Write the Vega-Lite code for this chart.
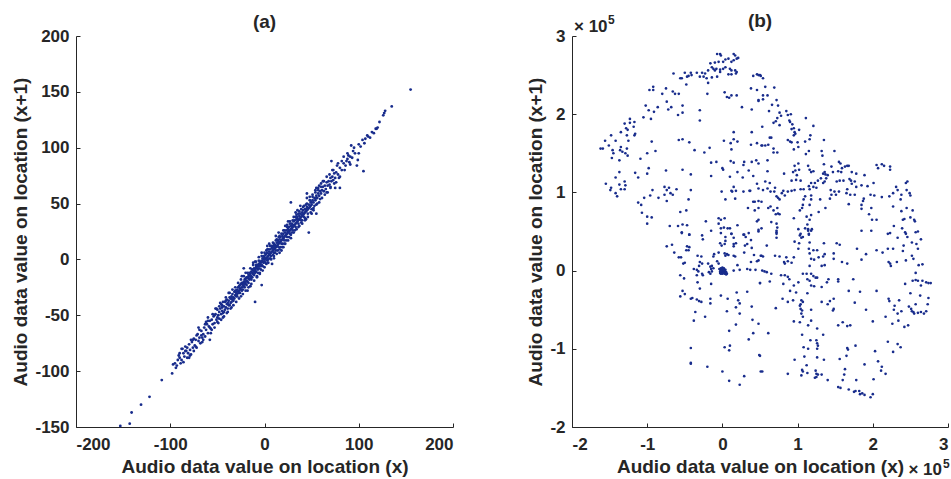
{
 "$schema": "https://vega.github.io/schema/vega-lite/v6.json",
 "padding": {"left": 11, "top": 12, "right": 0, "bottom": 0},
 "background": "white",
 "config": {
  "font": "Liberation Sans",
  "view": {"stroke": null},
  "axis": {"grid": false, "domainColor": "#262626", "domainWidth": 1, "tickColor": "#262626", "tickSize": -4, "labelPadding": 11, "labelFont": "Liberation Sans", "labelFontSize": 17, "labelFontWeight": "bold", "labelColor": "#262626", "titleFont": "Liberation Sans", "titleFontSize": 19, "titleFontWeight": "bold", "titleColor": "#262626", "format": "d", "labelExpr": "replace(datum.label, '−', '-')"},
  "axisX": {"titlePadding": 5, "labelPadding": 13},
  "axisY": {"titlePadding": 4},
  "title": {"fontSize": 19, "fontWeight": "bold", "color": "#262626", "font": "Liberation Sans", "offset": -5, "anchor": "middle"}
 },
 "datasets": {
  "a": [
   {"x":-153,"y":-149},{"x":-143,"y":-147},{"x":-141,"y":-137},{"x":-131,"y":-130},{"x":-122,"y":-123},{"x":-109,"y":-108},{"x":-98,"y":-102},
   {"x":-97,"y":-94},{"x":-95,"y":-93},{"x":-93,"y":-95},{"x":-91,"y":-86},{"x":-90,"y":-88},{"x":-88,"y":-90},{"x":-87,"y":-80},{"x":-86,"y":-84},{"x":-85,"y":-87},{"x":-84,"y":-78},{"x":-83,"y":-82},{"x":-82,"y":-88},{"x":-81,"y":-84},{"x":-80,"y":-76},{"x":-79,"y":-81},{"x":-78,"y":-85},{"x":-77,"y":-74},{"x":-76,"y":-79},{"x":-75,"y":-71},{"x":-74,"y":-77},{"x":-73,"y":-72},{"x":-72,"y":-79},{"x":-71,"y":-67},{"x":-70,"y":-73},{"x":-69,"y":-70},{"x":-68,"y":-75},{"x":-67,"y":-64},{"x":-66,"y":-70},{"x":-65,"y":-67},{"x":-64,"y":-61},{"x":-63,"y":-69},{"x":-62,"y":-63},{"x":-61,"y":-58},{"x":-60,"y":-66},{"x":-88,"y":-80},{"x":-80,"y":-88},{"x":-70,"y":-61},{"x":-58,"y":-72},{"x":-62,"y":-56},
   {"x":-59,"y":-60},{"x":-58,"y":-55},{"x":-57,"y":-62},{"x":-56,"y":-54},{"x":-55,"y":-58},{"x":-54,"y":-51},{"x":-53,"y":-57},{"x":-52,"y":-49},{"x":-51,"y":-54},{"x":-50,"y":-52},{"x":-50,"y":-45},{"x":-49,"y":-50},{"x":-48,"y":-47},{"x":-48,"y":-53},{"x":-47,"y":-44},{"x":-46,"y":-49},{"x":-45,"y":-46},{"x":-45,"y":-41},{"x":-44,"y":-48},{"x":-43,"y":-42},{"x":-42,"y":-45},{"x":-42,"y":-38},{"x":-41,"y":-43},{"x":-40,"y":-40},{"x":-40,"y":-36},{"x":-39,"y":-44},{"x":-38,"y":-37},{"x":-38,"y":-41},{"x":-37,"y":-34},{"x":-36,"y":-39},{"x":-36,"y":-35},{"x":-35,"y":-38},{"x":-34,"y":-31},{"x":-34,"y":-36},{"x":-33,"y":-34},{"x":-32,"y":-29},{"x":-32,"y":-35},{"x":-31,"y":-32},{"x":-30,"y":-33},{"x":-30,"y":-28},{"x":-56,"y":-63},{"x":-52,"y":-44},{"x":-46,"y":-40},{"x":-44,"y":-52},{"x":-38,"y":-30},{"x":-35,"y":-43},{"x":-40,"y":-48},
   {"x":-29,"y":-27},{"x":-29,"y":-31},{"x":-28,"y":-25},{"x":-28,"y":-29},{"x":-27,"y":-28},{"x":-27,"y":-24},{"x":-26,"y":-26},{"x":-26,"y":-30},{"x":-25,"y":-22},{"x":-25,"y":-27},{"x":-24,"y":-25},{"x":-24,"y":-21},{"x":-23,"y":-23},{"x":-23,"y":-27},{"x":-22,"y":-20},{"x":-22,"y":-24},{"x":-21,"y":-21},{"x":-21,"y":-18},{"x":-20,"y":-22},{"x":-20,"y":-17},{"x":-19,"y":-19},{"x":-19,"y":-23},{"x":-18,"y":-16},{"x":-18,"y":-20},{"x":-17,"y":-17},{"x":-17,"y":-14},{"x":-16,"y":-18},{"x":-16,"y":-15},{"x":-15,"y":-13},{"x":-15,"y":-17},{"x":-14,"y":-15},{"x":-14,"y":-11},{"x":-13,"y":-12},{"x":-13,"y":-16},{"x":-12,"y":-10},{"x":-12,"y":-13},{"x":-11,"y":-11},{"x":-11,"y":-8},{"x":-10,"y":-12},{"x":-10,"y":-9},{"x":-9,"y":-7},{"x":-9,"y":-11},{"x":-8,"y":-8},{"x":-8,"y":-5},{"x":-7,"y":-9},{"x":-7,"y":-6},{"x":-6,"y":-4},{"x":-6,"y":-8},{"x":-5,"y":-5},{"x":-5,"y":-2},{"x":-4,"y":-6},{"x":-4,"y":-3},{"x":-3,"y":-1},{"x":-3,"y":-5},{"x":-2,"y":-2},{"x":-2,"y":1},{"x":-1,"y":-3},{"x":-1,"y":0},{"x":0,"y":2},{"x":0,"y":-2},{"x":-25,"y":-33},{"x":-20,"y":-12},{"x":-15,"y":-24},{"x":-10,"y":-2},{"x":-5,"y":-13},{"x":-18,"y":-28},{"x":-12,"y":-3},{"x":-3,"y":6},{"x":-24,"y":-15},{"x":-8,"y":-16},{"x":-10,"y":-38},{"x":-3,"y":-23},{"x":-22,"y":-8},
   {"x":1,"y":0},{"x":1,"y":4},{"x":2,"y":1},{"x":2,"y":5},{"x":3,"y":2},{"x":3,"y":6},{"x":4,"y":3},{"x":4,"y":0},{"x":5,"y":7},{"x":5,"y":4},{"x":6,"y":5},{"x":6,"y":9},{"x":7,"y":6},{"x":7,"y":3},{"x":8,"y":10},{"x":8,"y":7},{"x":9,"y":8},{"x":9,"y":12},{"x":10,"y":9},{"x":10,"y":6},{"x":11,"y":13},{"x":11,"y":10},{"x":12,"y":11},{"x":12,"y":8},{"x":13,"y":15},{"x":13,"y":12},{"x":14,"y":13},{"x":14,"y":17},{"x":15,"y":14},{"x":15,"y":11},{"x":16,"y":18},{"x":16,"y":15},{"x":17,"y":16},{"x":17,"y":20},{"x":18,"y":17},{"x":18,"y":14},{"x":19,"y":21},{"x":19,"y":18},{"x":20,"y":19},{"x":20,"y":23},{"x":21,"y":20},{"x":21,"y":17},{"x":22,"y":24},{"x":22,"y":21},{"x":23,"y":22},{"x":23,"y":26},{"x":24,"y":23},{"x":24,"y":20},{"x":25,"y":27},{"x":25,"y":24},{"x":26,"y":25},{"x":26,"y":29},{"x":27,"y":26},{"x":27,"y":23},{"x":28,"y":30},{"x":28,"y":27},{"x":29,"y":28},{"x":29,"y":32},{"x":30,"y":29},{"x":30,"y":26},{"x":5,"y":14},{"x":10,"y":1},{"x":15,"y":24},{"x":20,"y":11},{"x":25,"y":34},{"x":12,"y":21},{"x":18,"y":8},{"x":28,"y":19},{"x":3,"y":12},{"x":22,"y":30},{"x":8,"y":-4},{"x":16,"y":6},{"x":28,"y":51},{"x":47,"y":24},
   {"x":31,"y":30},{"x":31,"y":34},{"x":32,"y":31},{"x":32,"y":35},{"x":33,"y":32},{"x":33,"y":29},{"x":34,"y":36},{"x":34,"y":33},{"x":35,"y":34},{"x":35,"y":38},{"x":36,"y":35},{"x":36,"y":32},{"x":37,"y":39},{"x":37,"y":36},{"x":38,"y":37},{"x":38,"y":41},{"x":39,"y":38},{"x":39,"y":35},{"x":40,"y":42},{"x":40,"y":39},{"x":41,"y":40},{"x":41,"y":44},{"x":42,"y":41},{"x":42,"y":38},{"x":43,"y":45},{"x":43,"y":42},{"x":44,"y":43},{"x":45,"y":47},{"x":45,"y":44},{"x":46,"y":45},{"x":47,"y":49},{"x":47,"y":46},{"x":48,"y":47},{"x":49,"y":51},{"x":49,"y":48},{"x":50,"y":49},{"x":51,"y":53},{"x":52,"y":51},{"x":53,"y":55},{"x":54,"y":53},{"x":55,"y":57},{"x":56,"y":55},{"x":57,"y":59},{"x":58,"y":57},{"x":59,"y":61},{"x":60,"y":59},{"x":35,"y":44},{"x":40,"y":32},{"x":45,"y":55},{"x":50,"y":41},{"x":55,"y":64},{"x":38,"y":48},{"x":52,"y":44},{"x":44,"y":36},{"x":58,"y":66},{"x":33,"y":42},{"x":45,"y":59},{"x":55,"y":41},
   {"x":61,"y":62},{"x":62,"y":65},{"x":63,"y":61},{"x":64,"y":66},{"x":65,"y":63},{"x":66,"y":69},{"x":67,"y":66},{"x":68,"y":70},{"x":69,"y":67},{"x":70,"y":73},{"x":71,"y":70},{"x":72,"y":74},{"x":73,"y":71},{"x":74,"y":77},{"x":75,"y":73},{"x":76,"y":78},{"x":78,"y":76},{"x":80,"y":82},{"x":82,"y":80},{"x":84,"y":86},{"x":86,"y":84},{"x":88,"y":90},{"x":62,"y":70},{"x":66,"y":60},{"x":70,"y":64},{"x":72,"y":80},{"x":76,"y":69},{"x":80,"y":74},{"x":84,"y":92},{"x":87,"y":88},{"x":89,"y":93},{"x":78,"y":86},{"x":71,"y":88},{"x":75,"y":64},{"x":80,"y":64},
   {"x":90,"y":87},{"x":91,"y":92},{"x":93,"y":91},{"x":94,"y":97},{"x":95,"y":100},{"x":96,"y":95},{"x":98,"y":84},{"x":99,"y":89},{"x":100,"y":103},{"x":102,"y":101},{"x":104,"y":107},{"x":105,"y":79},{"x":106,"y":104},{"x":107,"y":108},{"x":109,"y":111},{"x":110,"y":110},{"x":112,"y":109},{"x":114,"y":114},{"x":116,"y":113},{"x":118,"y":117},{"x":119,"y":117},{"x":120,"y":118},{"x":122,"y":123},{"x":126,"y":129},{"x":127,"y":131},{"x":128,"y":133},{"x":135,"y":137},{"x":155,"y":152},{"x":92,"y":102},{"x":100,"y":95},
   {"x":-45,"y":-43},{"x":-43,"y":-47},{"x":-41,"y":-37},{"x":-39,"y":-39},{"x":-37,"y":-41},{"x":-35,"y":-33},{"x":-33,"y":-37},{"x":-31,"y":-28},{"x":-29,"y":-33},{"x":-27,"y":-30},{"x":-26,"y":-23},{"x":-24,"y":-28},{"x":-22,"y":-22},{"x":-21,"y":-25},{"x":-19,"y":-16},{"x":-17,"y":-21},{"x":-16,"y":-12},{"x":-14,"y":-18},{"x":-13,"y":-9},{"x":-11,"y":-14},{"x":-9,"y":-5},{"x":-7,"y":-12},{"x":-6,"y":-1},{"x":-4,"y":-9},{"x":-2,"y":-6},{"x":-1,"y":3},{"x":1,"y":-3},{"x":2,"y":8},{"x":3,"y":-1},{"x":4,"y":9},{"x":6,"y":1},{"x":7,"y":12},{"x":9,"y":4},{"x":10,"y":14},{"x":11,"y":6},{"x":13,"y":18},{"x":14,"y":8},{"x":16,"y":21},{"x":17,"y":11},{"x":19,"y":14},{"x":20,"y":26},{"x":21,"y":14},{"x":23,"y":17},{"x":24,"y":29},{"x":26,"y":20},{"x":27,"y":32},{"x":29,"y":24},{"x":31,"y":38},{"x":32,"y":26},{"x":34,"y":40},{"x":36,"y":29},{"x":37,"y":43},{"x":39,"y":33},{"x":41,"y":47},{"x":43,"y":37},{"x":44,"y":49},{"x":46,"y":41},{"x":48,"y":53},{"x":50,"y":45},{"x":51,"y":56},{"x":53,"y":48},{"x":54,"y":60},{"x":56,"y":50},{"x":57,"y":62},{"x":59,"y":54},{"x":60,"y":65},{"x":-50,"y":-56},{"x":-48,"y":-42},{"x":-53,"y":-50},{"x":-58,"y":-61},{"x":-60,"y":-55},{"x":-65,"y":-72},{"x":-67,"y":-68},{"x":-73,"y":-78},{"x":-76,"y":-72},{"x":-79,"y":-86},{"x":-84,"y":-82},{"x":-89,"y":-93},{"x":-92,"y":-90},
   {"x":-60,"y":-52},{"x":-57,"y":-66},{"x":-55,"y":-49},{"x":-53,"y":-61},{"x":-51,"y":-44},{"x":-49,"y":-57},{"x":-47,"y":-39},{"x":-46,"y":-54},{"x":-44,"y":-38},{"x":-43,"y":-51},{"x":-41,"y":-34},{"x":-39,"y":-47},{"x":-37,"y":-30},{"x":-36,"y":-44},{"x":-34,"y":-27},{"x":-33,"y":-41},{"x":-31,"y":-25},{"x":-30,"y":-38},{"x":-28,"y":-21},{"x":-27,"y":-35},{"x":-25,"y":-18},{"x":-23,"y":-31},{"x":-22,"y":-15},{"x":-20,"y":-28},{"x":-18,"y":-12},{"x":-17,"y":-25},{"x":-15,"y":-8},{"x":-14,"y":-22},{"x":-12,"y":-5},{"x":-11,"y":-19},{"x":-9,"y":-2},{"x":-8,"y":-15},{"x":-6,"y":2},{"x":-5,"y":-12},{"x":-3,"y":3},{"x":-2,"y":-10},{"x":0,"y":6},{"x":0,"y":-7},{"x":2,"y":-4},{"x":3,"y":9},{"x":4,"y":-3},{"x":6,"y":12},{"x":7,"y":0},{"x":9,"y":15},{"x":10,"y":3},{"x":12,"y":17},{"x":13,"y":5},{"x":15,"y":20},{"x":16,"y":9},{"x":18,"y":23},{"x":19,"y":11},{"x":21,"y":26},{"x":22,"y":14},{"x":24,"y":31},{"x":25,"y":17},{"x":27,"y":34},{"x":28,"y":22},{"x":30,"y":35},{"x":31,"y":24},{"x":33,"y":38},{"x":34,"y":27},{"x":36,"y":41},{"x":37,"y":30},{"x":39,"y":45},{"x":40,"y":35},{"x":42,"y":48},{"x":43,"y":35},{"x":45,"y":50},{"x":46,"y":38},{"x":48,"y":56},{"x":49,"y":42},{"x":51,"y":58},{"x":52,"y":46},{"x":54,"y":62},{"x":55,"y":49},{"x":57,"y":64},{"x":58,"y":51},{"x":60,"y":68},{"x":61,"y":55},{"x":63,"y":70},{"x":64,"y":58},{"x":66,"y":74},{"x":67,"y":60},{"x":69,"y":76},{"x":70,"y":65},{"x":73,"y":80},{"x":74,"y":68},{"x":77,"y":84},{"x":79,"y":73},{"x":82,"y":88},{"x":85,"y":80},{"x":88,"y":95},{"x":91,"y":85},{"x":-63,"y":-58},{"x":-66,"y":-74},{"x":-69,"y":-63},{"x":-72,"y":-68},{"x":-75,"y":-82},{"x":-78,"y":-72},{"x":-82,"y":-79},{"x":-86,"y":-92},{"x":-90,"y":-84},{"x":-94,"y":-97},
   {"x":-35,"y":-35},{"x":-30,"y":-30},{"x":-20,"y":-20},{"x":-15,"y":-15},{"x":-10,"y":-10},{"x":-5,"y":-6},{"x":0,"y":0},{"x":5,"y":5},{"x":10,"y":11},{"x":15,"y":16},{"x":20,"y":20},{"x":25,"y":25},{"x":30,"y":31},{"x":35,"y":36},{"x":40,"y":40},{"x":45,"y":45},{"x":50,"y":51},{"x":55,"y":55}
  ],
  "b": [
   {"x":-0.07,"y":2.77},{"x":-0.03,"y":2.77},{"x":-0.02,"y":2.75},{"x":0.15,"y":2.77},{"x":0.17,"y":2.75},{"x":0.19,"y":2.71},{"x":0.21,"y":2.72},{"x":0.15,"y":2.69},{"x":0.12,"y":2.67},{"x":0.08,"y":2.71},{"x":0.04,"y":2.7},{"x":0.01,"y":2.67},{"x":-0.05,"y":2.67},{"x":-0.1,"y":2.66},{"x":-0.16,"y":2.65},{"x":-0.14,"y":2.6},{"x":-0.12,"y":2.58},{"x":-0.08,"y":2.58},{"x":-0.03,"y":2.57},{"x":0.01,"y":2.58},{"x":0.04,"y":2.6},{"x":0.1,"y":2.58},{"x":0.17,"y":2.56},{"x":0.19,"y":2.54},{"x":0.12,"y":2.51},{"x":0.08,"y":2.51},{"x":-0.03,"y":2.54},{"x":-0.1,"y":2.56},{"x":-0.19,"y":2.56},{"x":-0.23,"y":2.52},{"x":-0.25,"y":2.48},{"x":-0.3,"y":2.48},{"x":-0.34,"y":2.53},{"x":-0.41,"y":2.5},{"x":-0.45,"y":2.49},{"x":-0.47,"y":2.48},{"x":-0.54,"y":2.46},{"x":-0.56,"y":2.46},{"x":-0.65,"y":2.52},{"x":-0.5,"y":2.53},{"x":-0.42,"y":2.53},{"x":-0.27,"y":2.53},{"x":-0.21,"y":2.46},{"x":-0.19,"y":2.4},{"x":-0.14,"y":2.47},{"x":-0.07,"y":2.48},{"x":0.12,"y":2.56},{"x":0.18,"y":2.52},{"x":0.46,"y":2.51},{"x":0.5,"y":2.5},{"x":0.41,"y":2.49},{"x":0.46,"y":2.31},{"x":0.38,"y":2.33},{"x":0.48,"y":2.18},{"x":0.39,"y":2.06},{"x":0.26,"y":2.09},{"x":0.19,"y":2.24},{"x":0.12,"y":2.24},{"x":0.09,"y":2.21},{"x":0.06,"y":2.22},{"x":0.03,"y":2.28},{"x":-0.2,"y":2.26},{"x":-0.48,"y":2.38},{"x":-0.58,"y":2.26},{"x":-0.63,"y":2.26},{"x":-0.66,"y":2.29},{"x":-0.75,"y":2.33},{"x":-0.8,"y":2.26},{"x":-0.92,"y":2.35},{"x":-0.92,"y":2.31},{"x":-0.97,"y":2.31},{"x":-1.02,"y":2.11},{"x":-0.98,"y":2.05},{"x":-0.91,"y":2.03},{"x":-0.86,"y":2.09},{"x":-0.74,"y":2.16},{"x":-0.72,"y":2.06},{"x":-0.68,"y":2.09},{"x":-0.59,"y":1.99},{"x":-0.53,"y":2.11},{"x":-0.53,"y":2.02},{"x":-0.3,"y":2.05},{"x":-0.3,"y":1.92},{"x":-0.95,"y":1.94},{"x":-1.05,"y":1.96},{"x":-1.23,"y":1.94},{"x":-1.17,"y":1.9},{"x":-1.23,"y":1.89},{"x":-1.3,"y":1.88},{"x":-1.28,"y":1.82},{"x":-1.26,"y":1.8},{"x":-1.18,"y":1.84},{"x":-1.16,"y":1.75},{"x":-1.17,"y":1.73},{"x":-1.27,"y":1.73},{"x":-1.35,"y":1.77},{"x":-1.42,"y":1.66},{"x":-1.48,"y":1.73},{"x":-1.56,"y":1.66},{"x":-1.62,"y":1.56},{"x":-1.59,"y":1.56},{"x":-1.51,"y":1.6},{"x":-1.46,"y":1.54},{"x":-1.45,"y":1.5},{"x":-1.47,"y":1.44},{"x":-1.37,"y":1.41},{"x":-1.35,"y":1.58},{"x":-1.36,"y":1.54},{"x":-1.33,"y":1.52},{"x":-1.29,"y":1.5},{"x":-1.27,"y":1.56},{"x":-1.25,"y":1.66},{"x":-1.26,"y":1.47},{"x":-1.09,"y":1.43},{"x":-0.94,"y":1.65},{"x":-0.89,"y":1.53},{"x":-1.0,"y":1.5},{"x":-0.58,"y":1.67},{"x":-0.53,"y":1.68},{"x":-0.44,"y":1.64},{"x":-0.37,"y":1.54},{"x":-0.24,"y":1.51},{"x":-0.17,"y":1.57},{"x":0.02,"y":1.66},{"x":0.11,"y":1.63},{"x":0.15,"y":1.68},{"x":0.2,"y":1.65},{"x":0.12,"y":1.55},{"x":0.15,"y":1.77},{"x":0.39,"y":1.77},{"x":0.38,"y":1.61},{"x":0.46,"y":1.63},{"x":0.52,"y":1.6},{"x":-0.15,"y":1.38},{"x":-0.08,"y":1.39},{"x":0.11,"y":1.4},{"x":0.15,"y":1.38},{"x":0.29,"y":1.39},{"x":0.39,"y":1.39},{"x":0.45,"y":1.41},{"x":0.0,"y":1.31},{"x":0.01,"y":1.29},{"x":0.1,"y":1.2},{"x":0.2,"y":1.26},{"x":0.27,"y":1.19},{"x":0.28,"y":1.35},{"x":0.41,"y":1.21},{"x":0.35,"y":1.28},{"x":0.46,"y":1.11},{"x":0.37,"y":1.02},{"x":0.28,"y":1.01},{"x":0.18,"y":1.02},{"x":0.13,"y":1.01},{"x":-0.01,"y":1.01},{"x":-0.15,"y":1.21},{"x":-0.42,"y":1.23},{"x":-0.53,"y":1.29},{"x":-0.75,"y":1.28},{"x":-0.98,"y":1.31},{"x":-1.0,"y":1.24},{"x":-1.12,"y":1.19},{"x":-1.16,"y":1.25},{"x":-1.37,"y":1.26},{"x":-1.42,"y":1.19},{"x":-1.55,"y":1.11},{"x":-1.48,"y":1.06},{"x":-1.49,"y":1.03},{"x":-1.42,"y":0.99},{"x":-1.4,"y":0.95},{"x":-1.37,"y":1.1},{"x":-1.35,"y":1.04},{"x":-1.3,"y":1.14},{"x":-1.29,"y":1.09},{"x":-1.3,"y":1.04},{"x":-0.93,"y":1.03},{"x":-0.96,"y":0.96},{"x":-1.04,"y":0.93},{"x":-1.12,"y":0.87},{"x":-1.08,"y":0.84},{"x":-1.07,"y":0.74},{"x":-1.0,"y":0.69},{"x":-0.94,"y":0.68},{"x":-1.0,"y":0.6},{"x":-0.85,"y":0.93},{"x":-0.77,"y":0.97},{"x":-0.77,"y":1.07},{"x":-0.71,"y":1.06},{"x":-0.74,"y":1.03},{"x":-0.69,"y":0.99},{"x":-0.66,"y":0.97},{"x":-0.61,"y":1.04},{"x":-0.74,"y":0.89},{"x":-0.42,"y":1.03},{"x":-0.45,"y":0.91},{"x":-0.48,"y":0.77},{"x":-0.56,"y":0.75},{"x":-0.7,"y":0.57},{"x":-0.59,"y":0.57},{"x":-0.53,"y":0.59},{"x":-0.47,"y":0.58},{"x":-0.44,"y":0.46},{"x":-0.54,"y":0.49},{"x":-0.22,"y":0.63},{"x":-0.05,"y":0.67},{"x":-0.02,"y":0.65},{"x":0.03,"y":0.67},{"x":-0.05,"y":0.6},{"x":-0.02,"y":0.54},{"x":0.02,"y":0.55},{"x":0.07,"y":0.54},{"x":0.1,"y":0.54},{"x":0.12,"y":0.47},{"x":0.2,"y":0.58},{"x":0.29,"y":0.46},{"x":0.34,"y":0.8},{"x":0.41,"y":0.88},{"x":0.43,"y":0.77},{"x":0.46,"y":0.63},{"x":0.48,"y":0.52},{"x":0.04,"y":0.91},{"x":0.17,"y":0.92},{"x":0.15,"y":1.07},{"x":0.12,"y":1.02},{"x":0.36,"y":1.02},{"x":0.43,"y":0.88},
   {"x":0.48,"y":2.5},{"x":0.51,"y":2.49},{"x":0.54,"y":2.46},{"x":0.57,"y":2.35},{"x":0.69,"y":2.34},{"x":0.54,"y":2.24},{"x":0.6,"y":2.24},{"x":0.54,"y":2.19},{"x":0.48,"y":2.17},{"x":0.66,"y":2.12},{"x":0.72,"y":2.18},{"x":0.74,"y":2.11},{"x":0.62,"y":2.04},{"x":0.76,"y":2.02},{"x":0.78,"y":1.98},{"x":0.73,"y":1.95},{"x":0.71,"y":1.91},{"x":0.85,"y":2.04},{"x":0.91,"y":2.0},{"x":0.87,"y":1.99},{"x":0.89,"y":1.92},{"x":0.9,"y":1.9},{"x":0.93,"y":1.87},{"x":0.68,"y":1.89},{"x":0.76,"y":1.86},{"x":0.53,"y":1.84},{"x":0.92,"y":1.81},{"x":0.95,"y":1.82},{"x":0.96,"y":1.77},{"x":0.97,"y":1.75},{"x":0.95,"y":1.73},{"x":1.02,"y":1.8},{"x":1.21,"y":1.85},{"x":1.11,"y":1.95},{"x":1.17,"y":1.73},{"x":1.16,"y":1.68},{"x":1.1,"y":1.65},{"x":1.35,"y":1.67},{"x":0.87,"y":1.67},{"x":0.9,"y":1.65},{"x":0.92,"y":1.64},{"x":1.0,"y":1.64},{"x":1.01,"y":1.58},{"x":0.95,"y":1.55},{"x":0.65,"y":1.7},{"x":0.63,"y":1.7},{"x":0.61,"y":1.61},{"x":0.57,"y":1.6},{"x":0.53,"y":1.6},{"x":0.68,"y":1.56},{"x":0.68,"y":1.51},{"x":0.73,"y":1.51},{"x":1.11,"y":1.49},{"x":1.15,"y":1.53},{"x":1.32,"y":1.53},{"x":1.33,"y":1.47},{"x":1.49,"y":1.53},{"x":0.48,"y":1.37},{"x":0.6,"y":1.41},{"x":0.6,"y":1.27},{"x":0.82,"y":1.24},{"x":1.01,"y":1.37},{"x":0.96,"y":1.34},{"x":0.97,"y":1.28},{"x":1.02,"y":1.29},{"x":0.94,"y":1.26},{"x":0.99,"y":1.22},{"x":0.98,"y":1.16},{"x":1.04,"y":1.15},{"x":1.14,"y":1.34},{"x":1.16,"y":1.29},{"x":1.18,"y":1.26},{"x":1.21,"y":1.27},{"x":1.35,"y":1.36},{"x":1.36,"y":1.26},{"x":1.37,"y":1.23},{"x":1.4,"y":1.22},{"x":1.34,"y":1.24},{"x":1.38,"y":1.18},{"x":1.36,"y":1.14},{"x":1.34,"y":1.12},{"x":1.31,"y":1.18},{"x":1.27,"y":1.15},{"x":1.23,"y":1.12},{"x":1.18,"y":1.12},{"x":1.15,"y":1.08},{"x":1.21,"y":1.07},{"x":1.16,"y":1.04},{"x":1.25,"y":1.06},{"x":1.45,"y":1.33},{"x":1.55,"y":1.39},{"x":1.57,"y":1.37},{"x":1.59,"y":1.31},{"x":1.63,"y":1.33},{"x":1.66,"y":1.34},{"x":1.68,"y":1.34},{"x":1.58,"y":1.26},{"x":1.54,"y":1.27},{"x":1.47,"y":1.26},{"x":1.52,"y":1.14},{"x":1.56,"y":1.15},{"x":1.61,"y":1.15},{"x":1.69,"y":1.17},{"x":1.71,"y":1.15},{"x":1.72,"y":1.11},{"x":1.76,"y":1.14},{"x":1.78,"y":1.24},{"x":1.72,"y":1.26},{"x":1.89,"y":1.22},{"x":2.01,"y":1.12},{"x":2.05,"y":1.35},{"x":2.07,"y":1.31},{"x":2.12,"y":1.36},{"x":2.15,"y":1.34},{"x":2.23,"y":1.33},{"x":2.23,"y":1.29},{"x":1.93,"y":1.08},{"x":1.85,"y":1.09},{"x":1.78,"y":1.07},{"x":1.66,"y":1.04},{"x":1.7,"y":0.97},{"x":1.65,"y":0.99},{"x":1.55,"y":1.01},{"x":1.49,"y":1.01},{"x":1.44,"y":1.03},{"x":1.45,"y":0.97},{"x":1.51,"y":0.97},{"x":1.43,"y":0.92},{"x":1.3,"y":0.91},{"x":1.18,"y":0.96},{"x":1.18,"y":0.91},{"x":1.1,"y":0.95},{"x":1.08,"y":1.04},{"x":1.04,"y":1.04},{"x":0.96,"y":1.03},{"x":0.92,"y":1.15},{"x":0.92,"y":1.02},{"x":0.87,"y":1.01},{"x":0.83,"y":0.96},{"x":0.81,"y":1.02},{"x":0.79,"y":0.99},{"x":0.76,"y":0.91},{"x":0.74,"y":0.93},{"x":0.72,"y":0.95},{"x":0.69,"y":1.01},{"x":0.64,"y":1.01},{"x":0.6,"y":1.05},{"x":0.54,"y":1.03},{"x":0.48,"y":1.05},{"x":0.57,"y":1.14},{"x":0.63,"y":1.12},{"x":0.7,"y":1.06},{"x":0.48,"y":0.89},{"x":0.52,"y":0.88},{"x":0.61,"y":0.8},{"x":0.64,"y":0.82},{"x":0.68,"y":0.77},{"x":0.73,"y":0.8},{"x":0.74,"y":0.73},{"x":0.71,"y":0.72},{"x":0.76,"y":0.72},{"x":0.48,"y":0.8},{"x":1.03,"y":0.77},{"x":1.06,"y":0.8},{"x":1.07,"y":0.84},{"x":1.08,"y":0.91},{"x":1.16,"y":0.84},{"x":1.18,"y":0.71},{"x":1.28,"y":0.75},{"x":1.37,"y":0.8},{"x":1.68,"y":0.85},{"x":1.76,"y":0.97},{"x":1.85,"y":0.84},{"x":1.85,"y":0.79},{"x":1.87,"y":0.89},{"x":1.88,"y":0.92},{"x":1.97,"y":0.97},{"x":2.02,"y":0.96},{"x":2.12,"y":0.94},{"x":2.22,"y":0.95},{"x":2.27,"y":0.99},{"x":2.31,"y":1.07},{"x":2.33,"y":1.03},{"x":2.38,"y":0.97},{"x":2.37,"y":0.91},{"x":2.44,"y":1.12},{"x":2.46,"y":1.14},{"x":2.45,"y":1.03},{"x":2.49,"y":0.99},{"x":2.5,"y":0.96},{"x":2.27,"y":0.82},{"x":2.38,"y":0.76},{"x":2.45,"y":0.8},{"x":2.53,"y":0.77},{"x":2.42,"y":0.66},{"x":2.4,"y":0.65},{"x":2.5,"y":0.68},{"x":2.55,"y":0.65},{"x":2.56,"y":0.63},{"x":2.39,"y":0.54},{"x":2.28,"y":0.57},{"x":2.2,"y":0.47},{"x":2.23,"y":0.48},{"x":2.43,"y":0.49},{"x":2.57,"y":0.49},{"x":2.6,"y":0.5},{"x":1.99,"y":0.65},{"x":2.05,"y":0.65},{"x":1.95,"y":0.72},{"x":1.98,"y":0.8},{"x":1.85,"y":0.51},{"x":1.98,"y":0.51},{"x":0.95,"y":0.67},{"x":1.12,"y":0.69},{"x":1.16,"y":0.65},{"x":1.13,"y":0.59},{"x":1.1,"y":0.54},{"x":1.14,"y":0.53},{"x":1.19,"y":0.53},{"x":1.01,"y":0.53},{"x":1.04,"y":0.47},{"x":1.15,"y":0.47},{"x":0.72,"y":0.6},{"x":0.65,"y":0.62},{"x":0.73,"y":0.55},{"x":0.52,"y":0.54},{"x":0.48,"y":0.5},{"x":0.72,"y":0.49},{"x":0.48,"y":0.65},
   {"x":-0.54,"y":0.48},{"x":-0.44,"y":0.46},{"x":-0.27,"y":0.45},{"x":-0.26,"y":0.4},{"x":-0.15,"y":0.51},{"x":-0.02,"y":0.48},{"x":0.04,"y":0.43},{"x":0.12,"y":0.47},{"x":0.15,"y":0.42},{"x":0.28,"y":0.46},{"x":0.31,"y":0.43},{"x":0.35,"y":0.48},{"x":0.38,"y":0.39},{"x":0.04,"y":0.38},{"x":-0.03,"y":0.35},{"x":-0.01,"y":0.32},{"x":0.03,"y":0.34},{"x":0.15,"y":0.34},{"x":0.15,"y":0.31},{"x":0.18,"y":0.35},{"x":0.3,"y":0.32},{"x":0.33,"y":0.34},{"x":0.39,"y":0.29},{"x":-0.74,"y":0.31},{"x":-0.67,"y":0.33},{"x":-0.64,"y":0.23},{"x":-0.58,"y":0.17},{"x":-0.55,"y":0.17},{"x":-0.48,"y":0.26},{"x":-0.47,"y":0.31},{"x":-0.44,"y":0.3},{"x":-0.45,"y":0.26},{"x":-0.33,"y":0.19},{"x":-0.28,"y":0.18},{"x":-0.11,"y":0.21},{"x":-0.12,"y":0.18},{"x":-0.05,"y":0.23},{"x":0.03,"y":0.22},{"x":0.04,"y":0.19},{"x":0.06,"y":0.21},{"x":0.08,"y":0.2},{"x":0.15,"y":0.19},{"x":0.17,"y":0.18},{"x":0.29,"y":0.23},{"x":0.42,"y":0.2},{"x":0.46,"y":0.12},{"x":0.51,"y":0.19},{"x":-0.5,"y":0.1},{"x":-0.52,"y":0.09},{"x":-0.38,"y":0.02},{"x":-0.34,"y":0.01},{"x":-0.31,"y":0.06},{"x":-0.3,"y":0.11},{"x":-0.27,"y":0.09},{"x":-0.19,"y":0.09},{"x":-0.16,"y":0.05},{"x":-0.15,"y":0.02},{"x":-0.12,"y":0.03},{"x":-0.14,"y":0.06},{"x":-0.07,"y":0.12},{"x":-0.05,"y":0.09},{"x":-0.16,"y":-0.04},{"x":-0.18,"y":-0.02},{"x":-0.14,"y":-0.01},{"x":-0.32,"y":-0.01},{"x":-0.27,"y":-0.04},{"x":-0.26,"y":-0.06},{"x":-0.34,"y":-0.06},{"x":-0.33,"y":-0.15},{"x":-0.56,"y":-0.06},{"x":-0.51,"y":-0.1},{"x":-0.3,"y":-0.23},{"x":-0.15,"y":-0.17},{"x":0.15,"y":0.0},{"x":0.2,"y":0.07},{"x":0.23,"y":0.01},{"x":0.33,"y":0.02},{"x":0.37,"y":0.01},{"x":0.38,"y":0.11},{"x":0.44,"y":0.01},{"x":0.5,"y":-0.16},{"x":-0.53,"y":-0.26},{"x":-0.5,"y":-0.3},{"x":-0.56,"y":-0.33},{"x":-0.42,"y":-0.36},{"x":-0.4,"y":-0.35},{"x":-0.34,"y":-0.37},{"x":-0.31,"y":-0.39},{"x":-0.28,"y":-0.4},{"x":-0.16,"y":-0.36},{"x":-0.16,"y":-0.42},{"x":-0.02,"y":-0.32},{"x":0.07,"y":-0.36},{"x":0.19,"y":-0.28},{"x":0.21,"y":-0.38},{"x":0.23,"y":-0.42},{"x":0.18,"y":-0.47},{"x":0.33,"y":-0.27},{"x":0.39,"y":-0.46},{"x":0.23,"y":-0.55},{"x":0.4,"y":-0.63},{"x":0.06,"y":-0.52},{"x":-0.36,"y":-0.53},{"x":-0.38,"y":-0.64},{"x":-0.23,"y":-0.59},{"x":0.09,"y":-0.77},{"x":0.18,"y":-0.69},{"x":0.35,"y":-0.88},{"x":0.41,"y":-0.8},{"x":-0.42,"y":-0.99},{"x":0.03,"y":-0.98},{"x":0.1,"y":-0.96},{"x":0.09,"y":-1.02},{"x":0.49,"y":-1.08},{"x":-0.42,"y":-1.18},{"x":-0.42,"y":-1.19},{"x":-0.2,"y":-1.23},{"x":0.0,"y":-1.29},{"x":0.29,"y":-1.35},{"x":0.09,"y":-1.41},{"x":0.23,"y":-1.46},{"x":0.51,"y":-1.29},
   {"x":0.0,"y":0.0},{"x":0.02,"y":0.01},{"x":-0.02,"y":0.01},{"x":0.01,"y":-0.02},{"x":-0.01,"y":-0.02},{"x":0.03,"y":-0.01},{"x":-0.03,"y":-0.01},{"x":0.02,"y":0.03},{"x":-0.02,"y":0.03},{"x":0.0,"y":0.04},{"x":0.0,"y":-0.04},{"x":0.04,"y":0.01},{"x":-0.04,"y":0.02},{"x":0.03,"y":-0.04},{"x":-0.03,"y":-0.03},{"x":0.05,"y":-0.02},{"x":0.01,"y":0.02},{"x":-0.01,"y":0.0},{"x":0.02,"y":-0.03},{"x":-0.02,"y":-0.04},{"x":0.04,"y":-0.03},{"x":0.06,"y":-0.04},{"x":0.05,"y":-0.05},
   {"x":0.72,"y":0.51},{"x":0.72,"y":0.47},{"x":0.72,"y":0.42},{"x":1.03,"y":0.45},{"x":1.05,"y":0.42},{"x":1.14,"y":0.51},{"x":1.15,"y":0.46},{"x":1.18,"y":0.51},{"x":1.07,"y":0.43},{"x":0.96,"y":0.37},{"x":1.02,"y":0.35},{"x":1.16,"y":0.36},{"x":0.59,"y":0.32},{"x":0.52,"y":0.19},{"x":0.54,"y":0.18},{"x":0.48,"y":0.13},{"x":0.7,"y":0.19},{"x":0.76,"y":0.18},{"x":0.85,"y":0.17},{"x":0.82,"y":0.11},{"x":0.87,"y":0.12},{"x":0.92,"y":0.1},{"x":0.83,"y":0.09},{"x":0.95,"y":0.17},{"x":1.01,"y":0.28},{"x":1.15,"y":0.28},{"x":1.16,"y":0.22},{"x":1.21,"y":0.26},{"x":1.26,"y":0.26},{"x":1.18,"y":0.15},{"x":1.22,"y":0.14},{"x":1.16,"y":0.06},{"x":1.28,"y":0.17},{"x":1.34,"y":0.18},{"x":1.36,"y":0.21},{"x":1.36,"y":0.07},{"x":1.32,"y":0.06},{"x":1.35,"y":0.35},{"x":1.48,"y":0.22},{"x":1.48,"y":0.15},{"x":1.52,"y":0.35},{"x":1.56,"y":0.33},{"x":1.59,"y":0.11},{"x":1.66,"y":0.09},{"x":1.79,"y":0.28},{"x":1.85,"y":0.14},{"x":1.91,"y":0.21},{"x":2.05,"y":0.26},{"x":2.13,"y":0.23},{"x":2.2,"y":0.28},{"x":2.27,"y":0.28},{"x":2.21,"y":0.11},{"x":2.23,"y":0.09},{"x":2.24,"y":0.06},{"x":2.32,"y":0.11},{"x":2.33,"y":0.42},{"x":2.44,"y":0.47},{"x":2.46,"y":0.43},{"x":2.52,"y":0.36},{"x":2.58,"y":0.34},{"x":2.6,"y":0.28},{"x":2.64,"y":0.4},{"x":2.41,"y":0.32},{"x":2.4,"y":0.25},{"x":2.52,"y":0.19},{"x":2.54,"y":0.15},{"x":2.61,"y":0.07},{"x":2.66,"y":0.08},{"x":2.44,"y":0.13},{"x":0.53,"y":0.0},{"x":0.56,"y":-0.01},{"x":0.59,"y":-0.02},{"x":0.65,"y":-0.04},{"x":0.78,"y":-0.06},{"x":0.83,"y":-0.06},{"x":0.89,"y":-0.11},{"x":0.87,"y":-0.08},{"x":0.81,"y":-0.17},{"x":0.63,"y":-0.14},{"x":0.5,"y":-0.16},{"x":1.01,"y":-0.15},{"x":1.07,"y":-0.04},{"x":1.12,"y":-0.04},{"x":1.13,"y":-0.11},{"x":1.18,"y":-0.04},{"x":1.21,"y":-0.07},{"x":1.24,"y":-0.09},{"x":1.26,"y":-0.09},{"x":1.16,"y":-0.13},{"x":1.18,"y":-0.19},{"x":1.22,"y":-0.2},{"x":1.32,"y":-0.21},{"x":1.39,"y":-0.15},{"x":1.41,"y":-0.11},{"x":1.54,"y":-0.11},{"x":1.54,"y":-0.14},{"x":1.74,"y":-0.11},{"x":1.13,"y":-0.29},{"x":0.98,"y":-0.28},{"x":0.9,"y":-0.26},{"x":0.95,"y":-0.19},{"x":0.94,"y":-0.38},{"x":1.05,"y":-0.38},{"x":1.07,"y":-0.4},{"x":1.04,"y":-0.43},{"x":1.03,"y":-0.45},{"x":1.04,"y":-0.49},{"x":1.06,"y":-0.51},{"x":1.05,"y":-0.55},{"x":0.87,"y":-0.4},{"x":0.8,"y":-0.36},{"x":0.71,"y":-0.48},{"x":1.18,"y":-0.5},{"x":1.32,"y":-0.4},{"x":1.4,"y":-0.43},{"x":1.43,"y":-0.39},{"x":1.48,"y":-0.36},{"x":1.48,"y":-0.49},{"x":1.47,"y":-0.51},{"x":1.68,"y":-0.26},{"x":1.83,"y":-0.27},{"x":2.05,"y":-0.26},{"x":1.76,"y":-0.41},{"x":1.91,"y":-0.5},{"x":2.0,"y":-0.65},{"x":2.21,"y":-0.36},{"x":2.22,"y":-0.39},{"x":2.29,"y":-0.45},{"x":2.35,"y":-0.38},{"x":2.28,"y":-0.5},{"x":2.33,"y":-0.55},{"x":2.38,"y":-0.52},{"x":2.26,"y":-0.68},{"x":2.17,"y":-0.59},{"x":2.48,"y":-0.46},{"x":2.51,"y":-0.49},{"x":2.52,"y":-0.52},{"x":2.54,"y":-0.53},{"x":2.55,"y":-0.55},{"x":2.57,"y":-0.43},{"x":2.6,"y":-0.54},{"x":2.64,"y":-0.53},{"x":2.68,"y":-0.55},{"x":2.71,"y":-0.52},{"x":2.73,"y":-0.43},{"x":2.74,"y":-0.35},{"x":2.63,"y":-0.32},{"x":2.5,"y":-0.29},{"x":2.43,"y":-0.17},{"x":2.53,"y":-0.13},{"x":2.57,"y":-0.12},{"x":2.6,"y":-0.13},{"x":2.66,"y":-0.13},{"x":2.64,"y":-0.19},{"x":2.71,"y":-0.15},{"x":2.74,"y":-0.16},{"x":2.77,"y":-0.16},{"x":2.57,"y":-0.03},{"x":2.34,"y":-0.64},{"x":2.42,"y":-0.72},{"x":2.47,"y":-0.7},{"x":0.95,"y":-0.65},{"x":1.03,"y":-0.66},{"x":1.07,"y":-0.59},{"x":1.14,"y":-0.7},{"x":1.18,"y":-0.64},{"x":1.26,"y":-0.74},{"x":1.54,"y":-0.7},{"x":1.6,"y":-0.66},{"x":1.66,"y":-0.71},{"x":1.7,"y":-0.7},{"x":0.48,"y":-0.68},{"x":0.61,"y":-0.8},{"x":1.06,"y":-0.82},{"x":1.17,"y":-0.89},{"x":1.25,"y":-0.89},{"x":1.26,"y":-0.93},{"x":1.27,"y":-0.96},{"x":1.26,"y":-1.0},{"x":1.14,"y":-1.0},{"x":1.08,"y":-0.98},{"x":1.34,"y":-0.82},{"x":1.66,"y":-0.99},{"x":1.67,"y":-1.01},{"x":1.77,"y":-0.96},{"x":2.2,"y":-0.91},{"x":2.33,"y":-0.94},{"x":2.37,"y":-0.98},{"x":2.27,"y":-1.04},{"x":2.03,"y":-1.03},{"x":2.07,"y":-1.16},{"x":2.12,"y":-1.23},{"x":2.11,"y":-1.28},{"x":2.17,"y":-1.32},{"x":2.01,"y":-1.39},{"x":1.89,"y":-1.2},{"x":1.65,"y":-1.09},{"x":1.56,"y":-1.13},{"x":1.63,"y":-1.26},{"x":1.62,"y":-1.33},{"x":1.6,"y":-1.4},{"x":1.4,"y":-1.4},{"x":1.35,"y":-1.14},{"x":1.26,"y":-1.11},{"x":1.12,"y":-1.21},{"x":1.09,"y":-1.1},{"x":0.96,"y":-1.14},{"x":0.87,"y":-1.32},{"x":1.06,"y":-1.27},{"x":1.07,"y":-1.29},{"x":1.05,"y":-1.34},{"x":1.13,"y":-1.31},{"x":1.24,"y":-1.28},{"x":1.25,"y":-1.32},{"x":1.25,"y":-1.36},{"x":1.23,"y":-1.37},{"x":1.27,"y":-1.33},{"x":1.32,"y":-1.33},{"x":1.54,"y":-1.49},{"x":1.57,"y":-1.5},{"x":1.68,"y":-1.52},{"x":1.75,"y":-1.55},{"x":1.77,"y":-1.54},{"x":1.82,"y":-1.54},{"x":1.83,"y":-1.58},{"x":1.86,"y":-1.57},{"x":1.89,"y":-1.59},{"x":1.97,"y":-1.62},{"x":2.0,"y":-1.58},{"x":1.78,"y":-1.4},{"x":0.5,"y":-1.09},{"x":0.53,"y":-1.29}
  ]
 },
 "spacing": 119,
 "bounds": "flush",
 "hconcat": [
  {
   "title": "(a)",
   "width": 377,
   "height": 391,
   "data": {"name": "a"},
   "mark": {"type": "point", "filled": true, "size": 8, "color": "#182c8c", "opacity": 1},
   "encoding": {
    "x": {"field": "x", "type": "quantitative", "scale": {"domain": [-200, 200], "nice": false}, "axis": {"values": [-200, -100, 0, 100, 200], "title": "Audio data value on location (x)"}},
    "y": {"field": "y", "type": "quantitative", "scale": {"domain": [-150, 200], "nice": false}, "axis": {"values": [-150, -100, -50, 0, 50, 100, 150, 200], "title": "Audio data value on location (x+1)"}}
   }
  },
  {
   "title": {"text": "(b)", "dy": 12},
   "width": 376,
   "height": 391,
   "layer": [
    {
     "data": {"name": "b"},
     "mark": {"type": "point", "filled": true, "size": 7, "color": "#182c8c", "opacity": 1},
     "encoding": {
      "x": {"field": "x", "type": "quantitative", "scale": {"domain": [-2, 3], "nice": false}, "axis": {"values": [-2, -1, 0, 1, 2, 3], "title": "Audio data value on location (x)"}},
      "y": {"field": "y", "type": "quantitative", "scale": {"domain": [-2, 3], "nice": false}, "axis": {"values": [-2, -1, 0, 1, 2, 3], "title": "Audio data value on location (x+1)"}}
     }
    },
    {
     "data": {"values": [{"t": "× 10"}]},
     "mark": {"type": "text", "align": "left", "baseline": "alphabetic", "dx": 2, "dy": -4, "fontSize": 17, "fontWeight": "bold", "color": "#262626", "font": "Liberation Sans"},
     "encoding": {"x": {"datum": -2}, "y": {"datum": 3}, "text": {"field": "t"}}
    },
    {
     "data": {"values": [{"t": "5"}]},
     "mark": {"type": "text", "align": "left", "baseline": "alphabetic", "dx": 36, "dy": -12, "fontSize": 12, "fontWeight": "bold", "color": "#262626", "font": "Liberation Sans"},
     "encoding": {"x": {"datum": -2}, "y": {"datum": 3}, "text": {"field": "t"}}
    },
    {
     "data": {"values": [{"t": "× 10"}]},
     "mark": {"type": "text", "align": "right", "baseline": "alphabetic", "dx": -6, "dy": 48, "fontSize": 17, "fontWeight": "bold", "color": "#262626", "font": "Liberation Sans"},
     "encoding": {"x": {"datum": 3}, "y": {"datum": -2}, "text": {"field": "t"}}
    },
    {
     "data": {"values": [{"t": "5"}]},
     "mark": {"type": "text", "align": "left", "baseline": "alphabetic", "dx": -5, "dy": 41, "fontSize": 12, "fontWeight": "bold", "color": "#262626", "font": "Liberation Sans"},
     "encoding": {"x": {"datum": 3}, "y": {"datum": -2}, "text": {"field": "t"}}
    }
   ]
  }
 ]
}
